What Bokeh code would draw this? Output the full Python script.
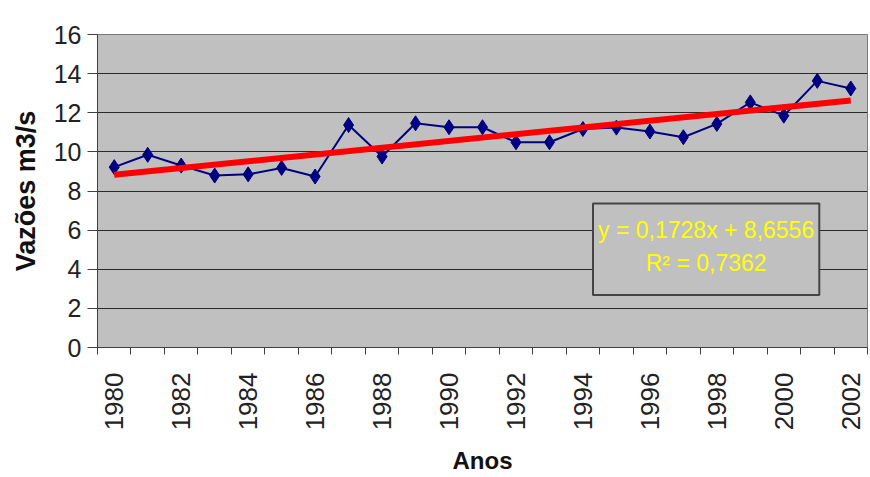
import math
from bokeh.plotting import figure
from bokeh.models import FixedTicker, BoxAnnotation, Label, Range1d
from bokeh.embed import file_html
from bokeh.resources import INLINE

years = [1980, 1981, 1982, 1983, 1984, 1985, 1986, 1987, 1988, 1989, 1990, 1991,
         1992, 1993, 1994, 1995, 1996, 1997, 1998, 1999, 2000, 2001, 2002]
vazoes = [9.22, 9.85, 9.30, 8.79, 8.85, 9.18, 8.74, 11.37, 9.76, 11.46, 11.26, 11.26,
          10.49, 10.49, 11.17, 11.24, 11.04, 10.75, 11.43, 12.53, 11.85, 13.63, 13.24]
y_ticks = [0, 2, 4, 6, 8, 10, 12, 14, 16]
trend_slope = 0.1728
trend_intercept = 8.6556
eq_text = "y = 0,1728x + 8,6556"
r2_text = "R\u00b2 = 0,7362"

idx = list(range(len(years)))
FONT = "Liberation Sans"

p = figure(width=870, height=477, output_backend="svg", toolbar_location=None,
           x_range=Range1d(-0.5, len(years) - 0.5), y_range=Range1d(0, 16),
           min_border_left=97, min_border_right=3, min_border_top=34, min_border_bottom=127)
p.background_fill_color = "#C0C0C0"
p.border_fill_color = "white"
p.outline_line_color = "#7a7a7a"
p.outline_line_width = 1

# grid
p.xgrid.grid_line_color = None
p.ygrid.grid_line_color = "#2a2a2a"
p.ygrid.grid_line_width = 1

# y axis
p.yaxis.ticker = FixedTicker(ticks=y_ticks)
p.yaxis.major_tick_out = 10
p.yaxis.major_tick_in = 0
p.yaxis.minor_tick_out = 0
p.yaxis.minor_tick_in = 0
p.yaxis.axis_line_color = "#404040"
p.yaxis.major_tick_line_color = "#404040"
p.yaxis.major_label_text_font = FONT
p.yaxis.major_label_text_font_size = "25px"
p.yaxis.major_label_text_color = "#222222"
p.yaxis.major_label_standoff = 6
p.yaxis.axis_label = "Vazões m3/s"
p.yaxis.axis_label_text_font = FONT
p.yaxis.axis_label_text_font_style = "bold"
p.yaxis.axis_label_text_font_size = "27px"
p.yaxis.axis_label_text_color = "#111111"
p.yaxis.axis_label_standoff = 10

# x axis
major = [i for i in idx if years[i] % 2 == 0]
bounds = [i - 0.5 for i in idx] + [idx[-1] + 0.5]
p.xaxis.ticker = FixedTicker(ticks=major, minor_ticks=bounds)
p.xaxis.major_label_overrides = {i: str(years[i]) for i in major}
p.xaxis.major_label_orientation = math.pi / 2
p.xaxis.major_tick_out = 0
p.xaxis.major_tick_in = 0
p.xaxis.minor_tick_out = 7
p.xaxis.minor_tick_in = 0
p.xaxis.minor_tick_line_color = "#404040"
p.xaxis.axis_line_color = "#404040"
p.xaxis.major_label_text_font = FONT
p.xaxis.major_label_text_font_size = "26px"
p.xaxis.major_label_text_color = "#222222"
p.xaxis.major_label_standoff = 18
p.xaxis.axis_label = "Anos"
p.xaxis.axis_label_text_font = FONT
p.xaxis.axis_label_text_font_style = "bold"
p.xaxis.axis_label_text_font_size = "24px"
p.xaxis.axis_label_text_color = "#111111"
p.xaxis.axis_label_standoff = 14

# series
p.line(idx, vazoes, line_color="#000080", line_width=2)
p.scatter(idx, vazoes, marker="diamond", size=15, fill_color="#000080", line_color="#000080")

# trend line from the displayed equation (x = 1..n)
tx = [idx[0], idx[-1]]
ty = [trend_intercept + trend_slope * (i + 1) for i in tx]
p.line(tx, ty, line_color="#FF0000", line_width=6)

# equation box
box = BoxAnnotation(left=14.3, right=21.06, top=7.36, bottom=2.69,
                    fill_color="#C0C0C0", fill_alpha=1.0,
                    line_color="#444444", line_alpha=1.0, line_width=2)
p.add_layout(box)
p.add_layout(Label(x=17.68, y=5.99, text=eq_text, text_align="center", text_baseline="middle",
                   text_font=FONT, text_font_size="23px", text_color="#FFFF00"))
p.add_layout(Label(x=17.68, y=4.3, text=r2_text, text_align="center", text_baseline="middle",
                   text_font=FONT, text_font_size="23px", text_color="#FFFF00"))

open("out.html", "w").write(file_html(p, INLINE))
